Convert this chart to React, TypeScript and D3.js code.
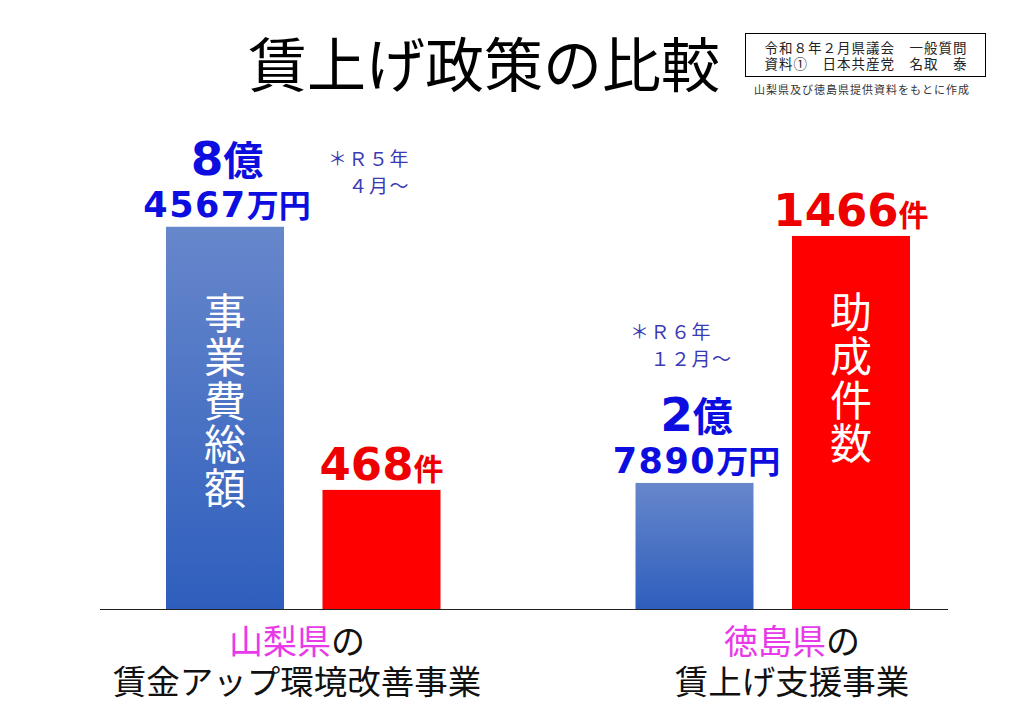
import React from "react";
import * as d3 from "d3";

// ---- data ----
const prefectures = ["山梨県", "徳島県"];
const programNames = ["賃金アップ環境改善事業", "賃上げ支援事業"];
const costValues = [845670000, 278900000]; // 事業費総額 (円)
const costOkuDigits = ["8", "2"];
const costManDigits = ["4567", "7890"];
const countValues = [468, 1466]; // 助成件数
const startNotes = [["＊Ｒ５年", "　４月～"], ["＊Ｒ６年", "　１２月～"]];
const costCaption = "事業費総額";
const countCaption = "助成件数";
const titleText = "賃上げ政策の比較";
const sourceLines = ["令和８年２月県議会　一般質問", "資料①　日本共産党　名取　泰"];
const sourceNote = "山梨県及び徳島県提供資料をもとに作成";

const FONT = "'Noto Sans CJK JP', 'Noto Sans', sans-serif";
const DIGIT_FONT = "'DejaVu Sans', 'Noto Sans', sans-serif";
const W = 1024;
const H = 724;
const BASE = 609;
const BLUE_TXT = "#0d0de0";
const RED_TXT = "#ee0000";

export default function App() {
  const slots = [
    `${prefectures[0]}-cost`,
    `${prefectures[0]}-count`,
    "gap",
    `${prefectures[1]}-cost`,
    `${prefectures[1]}-count`,
  ];
  const x = d3
    .scaleBand<string>()
    .domain(slots)
    .range([166, 910])
    .paddingInner(0.246)
    .paddingOuter(0);
  const yCost = d3.scaleLinear().domain([0, 1e9]).range([BASE, BASE - 452]);
  const yCount = d3.scaleLinear().domain([0, 1500]).range([BASE, BASE - 381.7]);
  const bw = x.bandwidth();

  const labelCenters = [297, 792];
  const noteX = [328, 630];
  const noteY = [157, 330];

  const vertical = (chars: string, cx: number, yTop: number) => (
    <text
      x={cx}
      y={yTop}
      textAnchor="start"
      fontSize={42}
      letterSpacing={1.8}
      fill="#fff"
      style={{ writingMode: "vertical-rl" as any }}
    >
      {chars}
    </text>
  );

  return (
    <svg
      width={W}
      height={H}
      viewBox={`0 0 ${W} ${H}`}
      style={{ position: "absolute", left: 0, top: 0, background: "#fff" }}
      fontFamily={FONT}
    >
      <defs>
        <linearGradient id="blueGrad" x1="0" y1="0" x2="0" y2="1">
          <stop offset="0%" stopColor="#6787cb" />
          <stop offset="100%" stopColor="#2e5ebd" />
        </linearGradient>
      </defs>
      <rect x={0} y={0} width={W} height={H} fill="#fff" />

      {/* title */}
      <text
        x={484}
        y={61}
        textAnchor="middle"
        dominantBaseline="central"
        fontSize={59}
        fill="#000"
      >
        {titleText}
      </text>

      {/* source box */}
      <rect x={745.5} y={33.5} width={240} height={43} fill="none" stroke="#000" strokeWidth={1} />
      <text
        textAnchor="middle"
        dominantBaseline="central"
        fontSize={13.5}
        letterSpacing={1}
        fill="#222"
      >
        {sourceLines.map((s, i) => (
          <tspan key={s} x={866} y={47 + i * 16}>
            {s}
          </tspan>
        ))}
      </text>
      <text
        x={862}
        y={89}
        textAnchor="middle"
        dominantBaseline="central"
        fontSize={11}
        letterSpacing={1}
        fill="#333"
      >
        {sourceNote}
      </text>

      {/* bars */}
      {prefectures.map((p, i) => {
        const xc = x(`${p}-cost`)!;
        const xn = x(`${p}-count`)!;
        const yc = yCost(costValues[i]);
        const yn = yCount(countValues[i]);
        return (
          <g key={p}>
            <rect x={xc} y={yc} width={bw} height={BASE - yc} fill="url(#blueGrad)" />
            <rect x={xn} y={yn} width={bw} height={BASE - yn} fill="#ff0000" />
            {/* cost labels */}
            <text textAnchor="middle" fontWeight={700} fill={BLUE_TXT}>
              <tspan x={xc + bw / 2 + 2} y={yc - 52}>
                <tspan fontFamily={DIGIT_FONT} fontSize={47}>
                  {costOkuDigits[i]}
                </tspan>
                <tspan fontSize={40}>億</tspan>
              </tspan>
              <tspan x={xc + bw / 2 + 2} y={yc - 10}>
                <tspan fontFamily={DIGIT_FONT} fontSize={35} letterSpacing={1.5}>
                  {costManDigits[i]}
                </tspan>
                <tspan fontSize={32} letterSpacing={0}>
                  万円
                </tspan>
              </tspan>
            </text>
            {/* count label */}
            <text x={xn + bw / 2} y={yn - 10} textAnchor="middle" fontWeight={700} fill={RED_TXT}>
              <tspan fontFamily={DIGIT_FONT} fontSize={45}>
                {String(countValues[i])}
              </tspan>
              <tspan fontSize={30}>件</tspan>
            </text>
            {/* start notes */}
            <text dominantBaseline="central" fontSize={19} letterSpacing={1.5} fill="#3a3ab4">
              {startNotes[i].map((n, j) => (
                <tspan key={j} x={noteX[i]} y={noteY[i] + j * 27}>
                  {n}
                </tspan>
              ))}
            </text>
            {/* bottom labels */}
            <text textAnchor="middle" dominantBaseline="central">
              <tspan x={labelCenters[i]} y={639} fontSize={34}>
                <tspan fill="#e83ae8">{p}</tspan>
                <tspan fill="#111">の</tspan>
              </tspan>
              <tspan x={labelCenters[i]} y={679} fontSize={33.5} fill="#111">
                {programNames[i]}
              </tspan>
            </text>
          </g>
        );
      })}

      {/* vertical captions */}
      {vertical(costCaption, x(`${prefectures[0]}-cost`)! + bw / 2, 292)}
      {vertical(countCaption, x(`${prefectures[1]}-count`)! + bw / 2, 291)}

      {/* baseline */}
      <line x1={100} x2={948} y1={BASE + 0.5} y2={BASE + 0.5} stroke="#222" strokeWidth={1.2} />
    </svg>
  );
}
